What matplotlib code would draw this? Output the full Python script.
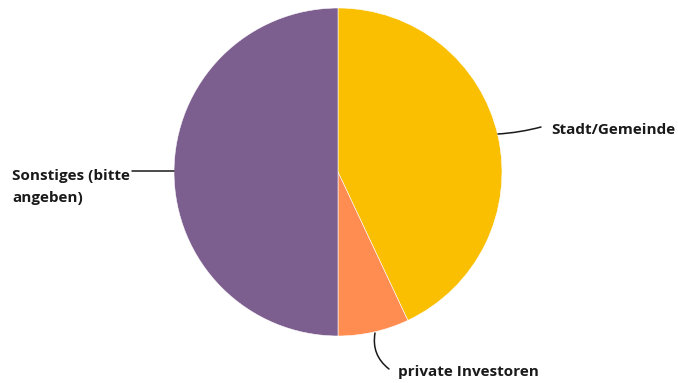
import matplotlib.pyplot as plt

labels = ['Stadt/Gemeinde', 'private Investoren', 'Sonstiges (bitte\nangeben)']
values = [43, 7, 50]
colors = ['#F9BF00', '#FF8C50', '#7D5F8F']

plt.rcParams['font.family'] = ['Open Sans', 'DejaVu Sans']

W, H = 678, 383
cx, cy, r = 338, 172, 164

fig = plt.figure(figsize=(W / 100, H / 100), dpi=100)
ax = fig.add_axes([(cx - r) / W, (H - cy - r) / H, 2 * r / W, 2 * r / H])
ax.pie(values, colors=colors, startangle=90, counterclock=False, radius=1,
       wedgeprops=dict(edgecolor='white', linewidth=0.4))
ax.set_xlim(-1, 1)
ax.set_ylim(-1, 1)
ax.set_aspect('equal')
ax.axis('off')


def d(px, py):
    return (px - cx) / r, (cy - py) / r


txt = dict(fontsize=11, fontweight='bold', color='#1a1a1a', clip_on=False)

# Stadt/Gemeinde
ax.annotate('', xy=d(498, 134), xytext=d(541, 127),
            arrowprops=dict(arrowstyle='-', color='#1a1a1a', lw=1.1,
                            connectionstyle='arc3,rad=-0.05', shrinkA=0, shrinkB=0))
ax.text(*d(551, 130), labels[0], ha='left', va='center', **txt)

# private Investoren
ax.annotate('', xy=d(375, 333), xytext=d(389, 369),
            arrowprops=dict(arrowstyle='-', color='#1a1a1a', lw=1.1,
                            connectionstyle='arc3,rad=-0.3', shrinkA=0, shrinkB=0))
ax.text(*d(398, 372), labels[1], ha='left', va='center', **txt)

# Sonstiges
ax.annotate('', xy=d(174, 171), xytext=d(132, 171),
            arrowprops=dict(arrowstyle='-', color='#1a1a1a', lw=1.1,
                            shrinkA=0, shrinkB=0))
ax.text(*d(12, 187), labels[2], ha='left', va='center', linespacing=1.75, **txt)

fig.savefig('out.png', dpi=100)
